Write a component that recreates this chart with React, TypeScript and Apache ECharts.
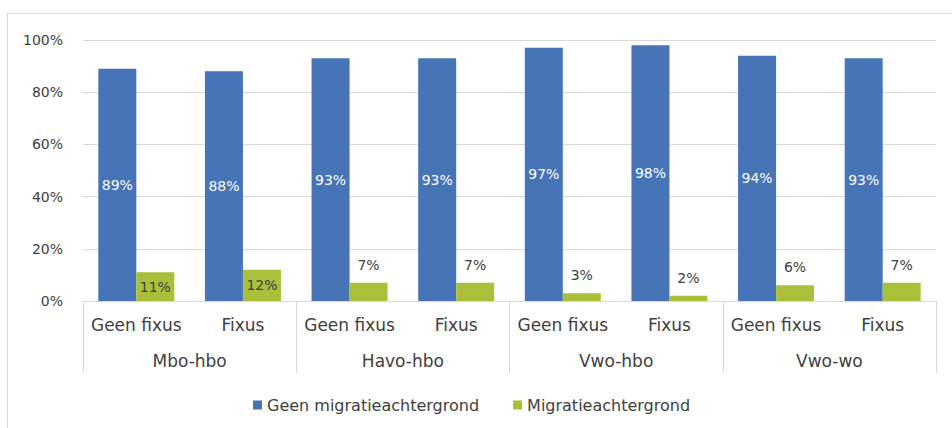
import React, { useEffect, useRef } from "react";
import * as echarts from "echarts";

const categories = ["Geen fixus", "Fixus", "Geen fixus", "Fixus", "Geen fixus", "Fixus", "Geen fixus", "Fixus"];
const groups = ["Mbo-hbo", "Havo-hbo", "Vwo-hbo", "Vwo-wo"];
const geenMigratie = [89, 88, 93, 93, 97, 98, 94, 93];
const migratie = [11, 12, 7, 7, 3, 2, 6, 7];
const yTicks = [0, 20, 40, 60, 80, 100];
const seriesNames = ["Geen migratieachtergrond", "Migratieachtergrond"];

const FONT = "DejaVu Sans";
const TEXT = "#404040";
const GRID = "#d9d9d9";

export default function App() {
  const ref = useRef<HTMLDivElement>(null);
  useEffect(() => {
    document.body.style.margin = "0";
    if (!ref.current) return;
    const chart = echarts.init(ref.current, null, { renderer: "svg" });
    chart.setOption({
      animation: false,
      textStyle: { fontFamily: FONT },
      grid: { left: 83, right: 16, top: 40, bottom: 127, containLabel: false },
      legend: {
        data: seriesNames,
        left: 248,
        top: 392,
        icon: "rect",
        itemWidth: 9,
        itemHeight: 9,
        itemGap: 34,
        textStyle: { fontSize: 16, color: TEXT, fontFamily: FONT },
      },
      xAxis: [
        {
          type: "category",
          data: categories,
          axisLine: { show: true, lineStyle: { color: GRID } },
          axisTick: { show: false },
          axisLabel: { fontSize: 17, color: TEXT, margin: 15, interval: 0, fontFamily: FONT },
        },
        {
          type: "category",
          data: groups,
          position: "bottom",
          axisLine: { show: false },
          axisTick: { show: true, length: 72, interval: 0, lineStyle: { color: GRID } },
          axisLabel: { fontSize: 17, color: TEXT, margin: 51, interval: 0, fontFamily: FONT },
        },
      ],
      yAxis: {
        type: "value",
        min: yTicks[0],
        max: yTicks[yTicks.length - 1],
        interval: 20,
        axisLine: { show: false },
        axisTick: { show: false },
        splitLine: { lineStyle: { color: GRID } },
        axisLabel: { formatter: "{value}%", fontSize: 14, color: TEXT, margin: 20, fontFamily: FONT },
      },
      series: [
        {
          name: seriesNames[0],
          type: "bar",
          xAxisIndex: 0,
          data: geenMigratie,
          barWidth: 38,
          barGap: "0%",
          itemStyle: { color: "#4674b7" },
          label: {
            show: true,
            position: "inside",
            formatter: "{c}%",
            color: "#ffffff",
            fontSize: 14,
            fontFamily: FONT,
          },
        },
        {
          name: seriesNames[1],
          type: "bar",
          xAxisIndex: 0,
          barWidth: 38,
          barGap: "0%",
          itemStyle: { color: "#aabf3a" },
          data: migratie.map((v) => ({
            value: v,
            label: v >= 10 ? { position: "inside" } : { position: "top", distance: 11 },
          })),
          label: {
            show: true,
            formatter: "{c}%",
            color: TEXT,
            fontSize: 14,
            fontFamily: FONT,
          },
        },
      ],
      graphic: [
        { type: "line", shape: { x1: 7.5, y1: 13, x2: 7.5, y2: 428 }, style: { stroke: GRID, lineWidth: 1 } },
        { type: "line", shape: { x1: 7, y1: 13.5, x2: 952, y2: 13.5 }, style: { stroke: GRID, lineWidth: 1 } },
      ],
    });
    return () => chart.dispose();
  }, []);
  return <div ref={ref} style={{ width: 952, height: 428 }} />;
}
